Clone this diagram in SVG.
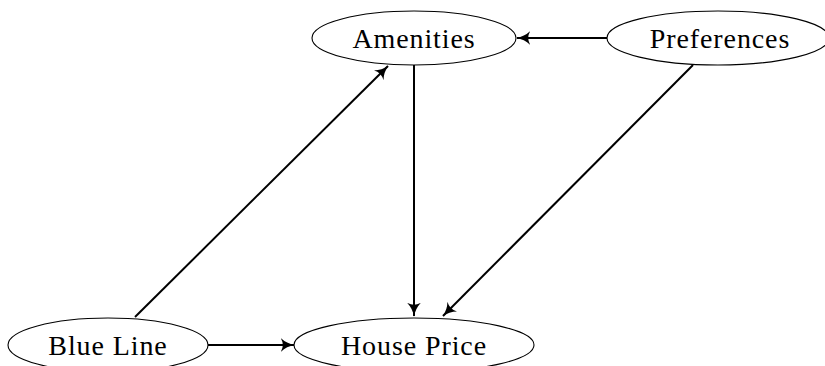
<svg xmlns="http://www.w3.org/2000/svg" width="825" height="366" viewBox="0 0 825 366">
<style>
.node ellipse{fill:#fff;stroke:#000;stroke-width:1.1}
.node text{font-family:"Liberation Serif","DejaVu Serif",serif;font-size:28px;letter-spacing:0.9px;text-anchor:middle;fill:#000}
.edge{stroke:#000;stroke-width:2;fill:none;marker-end:url(#ah)}
</style>
<defs>
<marker id="ah" viewBox="0 0 10 10" refX="9.5" refY="5" markerWidth="7" markerHeight="7" markerUnits="strokeWidth" orient="auto">
<path d="M0,0 Q4,4 10,5 Q4,6 0,10 Q3,5 0,0Z" fill="#000"/>
</marker>
</defs>
<g id="connectors">
<line class="edge" x1="607" y1="38" x2="517" y2="38"/>
<line class="edge" x1="414" y1="65" x2="414" y2="316"/>
<line class="edge" x1="693" y1="65" x2="443" y2="316"/>
<line class="edge" x1="135" y1="317" x2="388" y2="66"/>
<line class="edge" x1="208" y1="345" x2="294" y2="345"/>
</g>
<g id="amenities" class="node">
<ellipse cx="414" cy="38" rx="102" ry="27"/>
<text x="414" y="48">Amenities</text>
</g>
<g id="preferences" class="node">
<ellipse cx="718" cy="38" rx="111" ry="27"/>
<text x="720" y="48">Preferences</text>
</g>
<g id="blueline" class="node">
<ellipse cx="108" cy="345" rx="100" ry="27"/>
<text x="108" y="355">Blue Line</text>
</g>
<g id="houseprice" class="node">
<ellipse cx="414" cy="345" rx="120" ry="27"/>
<text x="414" y="355">House Price</text>
</g>
</svg>
